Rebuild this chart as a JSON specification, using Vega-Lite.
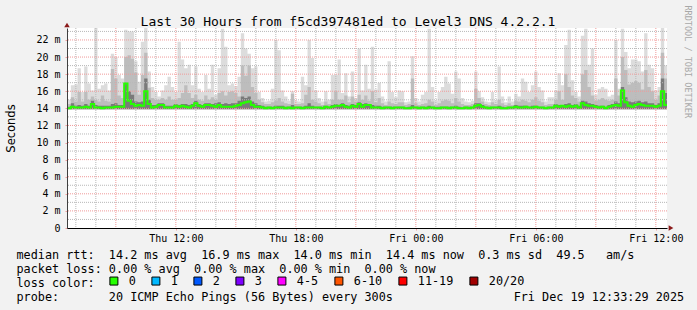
{
"$schema": "https://vega.github.io/schema/vega-lite/v6.json",
"width": 600, "height": 200,
"autosize": {"type": "none"},
"padding": {"left": 67, "top": 28, "right": 30, "bottom": 82},
"background": "#f2f2f2",
"config": {"view": {"fill": "#ffffff", "stroke": null}, "font": "DejaVu Sans Mono"},
"title": {"text": "Last 30 Hours from f5cd397481ed to Level3 DNS 4.2.2.1", "font": "DejaVu Sans Mono", "fontSize": 13, "fontWeight": "normal", "color": "#000000", "anchor": "middle", "frame": "group", "dx": -19, "dy": 39, "baseline": "alphabetic", "offset": 5},
"datasets": {
"gxMinor": [{"t":"2025-12-18T07:00:00Z"},{"t":"2025-12-18T08:00:00Z"},{"t":"2025-12-18T10:00:00Z"},{"t":"2025-12-18T11:00:00Z"},{"t":"2025-12-18T13:00:00Z"},{"t":"2025-12-18T14:00:00Z"},{"t":"2025-12-18T16:00:00Z"},{"t":"2025-12-18T17:00:00Z"},{"t":"2025-12-18T19:00:00Z"},{"t":"2025-12-18T20:00:00Z"},{"t":"2025-12-18T22:00:00Z"},{"t":"2025-12-18T23:00:00Z"},{"t":"2025-12-19T01:00:00Z"},{"t":"2025-12-19T02:00:00Z"},{"t":"2025-12-19T04:00:00Z"},{"t":"2025-12-19T05:00:00Z"},{"t":"2025-12-19T07:00:00Z"},{"t":"2025-12-19T08:00:00Z"},{"t":"2025-12-19T10:00:00Z"},{"t":"2025-12-19T11:00:00Z"}],
"gxMajor": [{"t":"2025-12-18T09:00:00Z"},{"t":"2025-12-18T12:00:00Z"},{"t":"2025-12-18T15:00:00Z"},{"t":"2025-12-18T18:00:00Z"},{"t":"2025-12-18T21:00:00Z"},{"t":"2025-12-19T00:00:00Z"},{"t":"2025-12-19T03:00:00Z"},{"t":"2025-12-19T06:00:00Z"},{"t":"2025-12-19T09:00:00Z"},{"t":"2025-12-19T12:00:00Z"}],
"gyMinor": [{"v":1},{"v":3},{"v":5},{"v":7},{"v":9},{"v":11},{"v":13},{"v":15},{"v":17},{"v":19},{"v":21},{"v":23}],
"gyMajor": [{"v":2},{"v":4},{"v":6},{"v":8},{"v":10},{"v":12},{"v":14},{"v":16},{"v":18},{"v":20},{"v":22}],
"s": [
{"t":"2025-12-18T06:30:00Z","med":14.0,"d":14.2,"m":14.4,"h":14.8},
{"t":"2025-12-18T06:40:00Z","med":14.0,"d":14.2,"m":14.5,"h":15.0},
{"t":"2025-12-18T06:50:00Z","med":14.2,"d":14.6,"m":15.3,"h":16.7},
{"t":"2025-12-18T07:00:00Z","med":14.1,"d":14.3,"m":14.8,"h":16.8},
{"t":"2025-12-18T07:10:00Z","med":14.1,"d":14.4,"m":15.9,"h":18.7},
{"t":"2025-12-18T07:20:00Z","med":14.1,"d":14.3,"m":14.8,"h":15.9},
{"t":"2025-12-18T07:30:00Z","med":14.2,"d":14.5,"m":15.9,"h":18.9},
{"t":"2025-12-18T07:40:00Z","med":14.1,"d":14.3,"m":15.0,"h":16.9},
{"t":"2025-12-18T07:50:00Z","med":14.5,"d":14.9,"m":15.4,"h":16.1},
{"t":"2025-12-18T08:00:00Z","med":14.1,"d":14.4,"m":15.0,"h":23.4},
{"t":"2025-12-18T08:10:00Z","med":14.1,"d":14.3,"m":14.8,"h":16.3},
{"t":"2025-12-18T08:20:00Z","med":14.0,"d":14.3,"m":15.5,"h":16.7},
{"t":"2025-12-18T08:30:00Z","med":14.1,"d":14.3,"m":14.9,"h":16.9},
{"t":"2025-12-18T08:40:00Z","med":14.1,"d":14.3,"m":14.8,"h":16.1},
{"t":"2025-12-18T08:50:00Z","med":14.1,"d":14.5,"m":18.6,"h":20.4},
{"t":"2025-12-18T09:00:00Z","med":14.2,"d":14.6,"m":17.5,"h":20.0},
{"t":"2025-12-18T09:10:00Z","med":14.2,"d":14.4,"m":15.5,"h":17.9},
{"t":"2025-12-18T09:20:00Z","med":14.2,"d":14.4,"m":15.2,"h":17.5},
{"t":"2025-12-18T09:30:00Z","med":16.9,"d":17.0,"m":20.0,"h":23.2},
{"t":"2025-12-18T09:40:00Z","med":14.9,"d":16.0,"m":20.2,"h":23.0},
{"t":"2025-12-18T09:50:00Z","med":14.5,"d":15.6,"m":19.8,"h":23.0},
{"t":"2025-12-18T10:00:00Z","med":14.3,"d":14.8,"m":18.2,"h":19.5},
{"t":"2025-12-18T10:10:00Z","med":14.4,"d":14.7,"m":15.6,"h":17.1},
{"t":"2025-12-18T10:20:00Z","med":14.3,"d":14.8,"m":17.9,"h":21.8},
{"t":"2025-12-18T10:30:00Z","med":16.0,"d":17.5,"m":20.5,"h":23.4},
{"t":"2025-12-18T10:40:00Z","med":14.5,"d":15.0,"m":16.4,"h":18.3},
{"t":"2025-12-18T10:50:00Z","med":14.1,"d":14.4,"m":15.2,"h":16.5},
{"t":"2025-12-18T11:00:00Z","med":14.2,"d":14.4,"m":15.0,"h":15.9},
{"t":"2025-12-18T11:10:00Z","med":14.4,"d":14.6,"m":15.0,"h":15.4},
{"t":"2025-12-18T11:20:00Z","med":14.4,"d":14.6,"m":15.2,"h":16.1},
{"t":"2025-12-18T11:30:00Z","med":14.1,"d":14.3,"m":15.0,"h":16.7},
{"t":"2025-12-18T11:40:00Z","med":14.1,"d":14.3,"m":15.4,"h":17.7},
{"t":"2025-12-18T11:50:00Z","med":14.1,"d":14.3,"m":15.0,"h":16.5},
{"t":"2025-12-18T12:00:00Z","med":14.3,"d":14.5,"m":15.0,"h":15.9},
{"t":"2025-12-18T12:10:00Z","med":14.2,"d":14.4,"m":15.2,"h":21.8},
{"t":"2025-12-18T12:20:00Z","med":14.3,"d":14.5,"m":15.8,"h":19.7},
{"t":"2025-12-18T12:30:00Z","med":14.2,"d":14.5,"m":16.7,"h":18.7},
{"t":"2025-12-18T12:40:00Z","med":14.1,"d":14.4,"m":15.8,"h":19.1},
{"t":"2025-12-18T12:50:00Z","med":14.3,"d":14.5,"m":15.2,"h":16.7},
{"t":"2025-12-18T13:00:00Z","med":14.6,"d":14.9,"m":15.6,"h":18.9},
{"t":"2025-12-18T13:10:00Z","med":14.3,"d":14.5,"m":15.0,"h":16.3},
{"t":"2025-12-18T13:20:00Z","med":14.2,"d":14.4,"m":14.9,"h":15.9},
{"t":"2025-12-18T13:30:00Z","med":14.4,"d":14.6,"m":15.5,"h":17.9},
{"t":"2025-12-18T13:40:00Z","med":14.4,"d":14.6,"m":15.0,"h":16.3},
{"t":"2025-12-18T13:50:00Z","med":14.3,"d":14.5,"m":15.3,"h":19.1},
{"t":"2025-12-18T14:00:00Z","med":14.2,"d":14.6,"m":15.0,"h":15.6},
{"t":"2025-12-18T14:10:00Z","med":14.4,"d":14.7,"m":15.8,"h":18.7},
{"t":"2025-12-18T14:20:00Z","med":14.2,"d":14.5,"m":16.0,"h":23.3},
{"t":"2025-12-18T14:30:00Z","med":14.2,"d":14.6,"m":15.5,"h":21.2},
{"t":"2025-12-18T14:40:00Z","med":14.2,"d":14.5,"m":15.9,"h":16.7},
{"t":"2025-12-18T14:50:00Z","med":14.2,"d":14.6,"m":16.0,"h":16.9},
{"t":"2025-12-18T15:00:00Z","med":14.3,"d":14.6,"m":15.8,"h":16.6},
{"t":"2025-12-18T15:10:00Z","med":14.4,"d":14.9,"m":15.4,"h":17.7},
{"t":"2025-12-18T15:20:00Z","med":14.6,"d":15.4,"m":19.0,"h":22.8},
{"t":"2025-12-18T15:30:00Z","med":14.7,"d":15.2,"m":17.8,"h":21.0},
{"t":"2025-12-18T15:40:00Z","med":14.8,"d":15.4,"m":19.0,"h":20.4},
{"t":"2025-12-18T15:50:00Z","med":14.4,"d":14.8,"m":16.5,"h":18.7},
{"t":"2025-12-18T16:00:00Z","med":14.2,"d":14.6,"m":15.8,"h":18.9},
{"t":"2025-12-18T16:10:00Z","med":14.2,"d":14.4,"m":15.0,"h":15.9},
{"t":"2025-12-18T16:20:00Z","med":14.1,"d":14.3,"m":14.7,"h":15.2},
{"t":"2025-12-18T16:30:00Z","med":14.0,"d":14.2,"m":14.5,"h":14.8},
{"t":"2025-12-18T16:40:00Z","med":14.1,"d":14.2,"m":14.5,"h":14.9},
{"t":"2025-12-18T16:50:00Z","med":14.0,"d":14.2,"m":14.7,"h":16.3},
{"t":"2025-12-18T17:00:00Z","med":14.1,"d":14.3,"m":14.9,"h":22.0},
{"t":"2025-12-18T17:10:00Z","med":14.1,"d":14.3,"m":15.2,"h":20.8},
{"t":"2025-12-18T17:20:00Z","med":14.1,"d":14.3,"m":14.8,"h":16.1},
{"t":"2025-12-18T17:30:00Z","med":14.0,"d":14.2,"m":14.6,"h":15.4},
{"t":"2025-12-18T17:40:00Z","med":14.1,"d":14.2,"m":14.5,"h":14.9},
{"t":"2025-12-18T17:50:00Z","med":14.0,"d":14.4,"m":15.7,"h":16.0},
{"t":"2025-12-18T18:00:00Z","med":14.1,"d":14.2,"m":14.5,"h":14.9},
{"t":"2025-12-18T18:10:00Z","med":14.1,"d":14.2,"m":14.5,"h":14.8},
{"t":"2025-12-18T18:20:00Z","med":14.0,"d":14.2,"m":14.6,"h":17.7},
{"t":"2025-12-18T18:30:00Z","med":14.1,"d":14.3,"m":15.6,"h":16.7},
{"t":"2025-12-18T18:40:00Z","med":14.1,"d":14.6,"m":16.5,"h":22.0},
{"t":"2025-12-18T18:50:00Z","med":14.1,"d":14.3,"m":15.0,"h":19.9},
{"t":"2025-12-18T19:00:00Z","med":14.1,"d":14.2,"m":14.8,"h":16.1},
{"t":"2025-12-18T19:10:00Z","med":14.1,"d":14.2,"m":14.6,"h":15.2},
{"t":"2025-12-18T19:20:00Z","med":14.0,"d":14.2,"m":14.4,"h":14.8},
{"t":"2025-12-18T19:30:00Z","med":14.2,"d":14.3,"m":14.8,"h":16.0},
{"t":"2025-12-18T19:40:00Z","med":14.1,"d":14.2,"m":14.5,"h":15.0},
{"t":"2025-12-18T19:50:00Z","med":14.2,"d":14.4,"m":15.0,"h":17.9},
{"t":"2025-12-18T20:00:00Z","med":14.3,"d":14.5,"m":16.0,"h":17.9},
{"t":"2025-12-18T20:10:00Z","med":14.3,"d":14.4,"m":15.0,"h":19.7},
{"t":"2025-12-18T20:20:00Z","med":14.4,"d":14.6,"m":15.0,"h":15.8},
{"t":"2025-12-18T20:30:00Z","med":14.2,"d":14.4,"m":15.5,"h":18.1},
{"t":"2025-12-18T20:40:00Z","med":14.1,"d":14.3,"m":14.7,"h":15.4},
{"t":"2025-12-18T20:50:00Z","med":14.3,"d":14.5,"m":15.4,"h":18.3},
{"t":"2025-12-18T21:00:00Z","med":14.2,"d":14.4,"m":14.8,"h":15.2},
{"t":"2025-12-18T21:10:00Z","med":14.5,"d":14.7,"m":15.6,"h":21.0},
{"t":"2025-12-18T21:20:00Z","med":14.2,"d":14.5,"m":15.0,"h":16.1},
{"t":"2025-12-18T21:30:00Z","med":14.4,"d":14.6,"m":15.5,"h":19.1},
{"t":"2025-12-18T21:40:00Z","med":14.4,"d":14.5,"m":14.9,"h":16.3},
{"t":"2025-12-18T21:50:00Z","med":14.1,"d":14.4,"m":16.0,"h":21.2},
{"t":"2025-12-18T22:00:00Z","med":14.1,"d":14.3,"m":14.7,"h":16.2},
{"t":"2025-12-18T22:10:00Z","med":14.1,"d":14.3,"m":15.2,"h":17.0},
{"t":"2025-12-18T22:20:00Z","med":14.0,"d":14.2,"m":14.6,"h":15.4},
{"t":"2025-12-18T22:30:00Z","med":14.1,"d":14.2,"m":14.4,"h":14.8},
{"t":"2025-12-18T22:40:00Z","med":14.1,"d":14.2,"m":14.8,"h":19.5},
{"t":"2025-12-18T22:50:00Z","med":14.0,"d":14.2,"m":14.6,"h":15.9},
{"t":"2025-12-18T23:00:00Z","med":14.1,"d":14.2,"m":14.5,"h":15.3},
{"t":"2025-12-18T23:10:00Z","med":14.1,"d":14.2,"m":14.7,"h":16.1},
{"t":"2025-12-18T23:20:00Z","med":14.1,"d":14.2,"m":14.7,"h":16.0},
{"t":"2025-12-18T23:30:00Z","med":14.0,"d":14.1,"m":14.4,"h":14.7},
{"t":"2025-12-18T23:40:00Z","med":14.0,"d":14.2,"m":14.5,"h":14.8},
{"t":"2025-12-18T23:50:00Z","med":14.1,"d":14.4,"m":17.5,"h":20.1},
{"t":"2025-12-19T00:00:00Z","med":14.1,"d":14.2,"m":14.6,"h":15.2},
{"t":"2025-12-19T00:10:00Z","med":14.0,"d":14.2,"m":14.4,"h":14.8},
{"t":"2025-12-19T00:20:00Z","med":14.1,"d":14.2,"m":14.5,"h":15.6},
{"t":"2025-12-19T00:30:00Z","med":14.0,"d":14.2,"m":14.6,"h":15.9},
{"t":"2025-12-19T00:40:00Z","med":14.1,"d":14.3,"m":15.0,"h":23.3},
{"t":"2025-12-19T00:50:00Z","med":14.1,"d":14.2,"m":14.8,"h":16.5},
{"t":"2025-12-19T01:00:00Z","med":14.0,"d":14.2,"m":14.4,"h":14.9},
{"t":"2025-12-19T01:10:00Z","med":14.0,"d":14.2,"m":14.6,"h":15.9},
{"t":"2025-12-19T01:20:00Z","med":14.1,"d":14.2,"m":14.9,"h":16.5},
{"t":"2025-12-19T01:30:00Z","med":14.1,"d":14.2,"m":15.0,"h":17.7},
{"t":"2025-12-19T01:40:00Z","med":14.0,"d":14.2,"m":14.9,"h":16.9},
{"t":"2025-12-19T01:50:00Z","med":14.1,"d":14.2,"m":14.6,"h":15.7},
{"t":"2025-12-19T02:00:00Z","med":14.1,"d":14.3,"m":15.2,"h":18.3},
{"t":"2025-12-19T02:10:00Z","med":14.0,"d":14.2,"m":14.8,"h":17.5},
{"t":"2025-12-19T02:20:00Z","med":14.0,"d":14.1,"m":14.5,"h":15.2},
{"t":"2025-12-19T02:30:00Z","med":14.1,"d":14.2,"m":14.4,"h":14.8},
{"t":"2025-12-19T02:40:00Z","med":14.0,"d":14.2,"m":14.4,"h":14.7},
{"t":"2025-12-19T02:50:00Z","med":14.1,"d":14.2,"m":14.5,"h":14.9},
{"t":"2025-12-19T03:00:00Z","med":14.3,"d":14.6,"m":16.3,"h":18.3},
{"t":"2025-12-19T03:10:00Z","med":14.4,"d":14.6,"m":15.2,"h":16.0},
{"t":"2025-12-19T03:20:00Z","med":14.2,"d":14.4,"m":14.8,"h":15.3},
{"t":"2025-12-19T03:30:00Z","med":14.1,"d":14.2,"m":14.5,"h":14.8},
{"t":"2025-12-19T03:40:00Z","med":14.0,"d":14.2,"m":14.4,"h":14.7},
{"t":"2025-12-19T03:50:00Z","med":14.1,"d":14.2,"m":14.7,"h":15.9},
{"t":"2025-12-19T04:00:00Z","med":14.1,"d":14.2,"m":14.5,"h":14.9},
{"t":"2025-12-19T04:10:00Z","med":14.1,"d":14.3,"m":15.0,"h":18.9},
{"t":"2025-12-19T04:20:00Z","med":14.0,"d":14.2,"m":14.6,"h":15.4},
{"t":"2025-12-19T04:30:00Z","med":14.0,"d":14.1,"m":14.4,"h":14.7},
{"t":"2025-12-19T04:40:00Z","med":14.1,"d":14.2,"m":14.6,"h":15.4},
{"t":"2025-12-19T04:50:00Z","med":14.1,"d":14.2,"m":14.4,"h":14.8},
{"t":"2025-12-19T05:00:00Z","med":14.2,"d":14.4,"m":14.9,"h":15.7},
{"t":"2025-12-19T05:10:00Z","med":14.1,"d":14.3,"m":14.8,"h":15.4},
{"t":"2025-12-19T05:20:00Z","med":14.1,"d":14.3,"m":15.0,"h":17.5},
{"t":"2025-12-19T05:30:00Z","med":14.2,"d":14.3,"m":14.9,"h":17.1},
{"t":"2025-12-19T05:40:00Z","med":14.1,"d":14.2,"m":14.7,"h":15.9},
{"t":"2025-12-19T05:50:00Z","med":14.1,"d":14.3,"m":15.0,"h":16.7},
{"t":"2025-12-19T06:00:00Z","med":14.2,"d":14.3,"m":15.3,"h":18.3},
{"t":"2025-12-19T06:10:00Z","med":14.1,"d":14.2,"m":14.9,"h":16.5},
{"t":"2025-12-19T06:20:00Z","med":14.1,"d":14.2,"m":14.7,"h":16.1},
{"t":"2025-12-19T06:30:00Z","med":14.0,"d":14.1,"m":14.4,"h":14.8},
{"t":"2025-12-19T06:40:00Z","med":14.1,"d":14.2,"m":14.5,"h":15.3},
{"t":"2025-12-19T06:50:00Z","med":14.1,"d":14.2,"m":14.5,"h":15.3},
{"t":"2025-12-19T07:00:00Z","med":14.3,"d":14.5,"m":15.0,"h":16.1},
{"t":"2025-12-19T07:10:00Z","med":14.2,"d":14.4,"m":16.0,"h":18.1},
{"t":"2025-12-19T07:20:00Z","med":14.3,"d":14.4,"m":15.0,"h":16.7},
{"t":"2025-12-19T07:30:00Z","med":14.2,"d":14.5,"m":18.0,"h":21.4},
{"t":"2025-12-19T07:40:00Z","med":14.3,"d":14.6,"m":16.5,"h":23.2},
{"t":"2025-12-19T07:50:00Z","med":14.2,"d":14.4,"m":15.5,"h":17.3},
{"t":"2025-12-19T08:00:00Z","med":14.3,"d":14.5,"m":15.2,"h":15.9},
{"t":"2025-12-19T08:10:00Z","med":14.1,"d":14.3,"m":14.8,"h":15.4},
{"t":"2025-12-19T08:20:00Z","med":14.6,"d":14.9,"m":18.0,"h":22.5},
{"t":"2025-12-19T08:30:00Z","med":14.4,"d":14.8,"m":18.5,"h":23.3},
{"t":"2025-12-19T08:40:00Z","med":14.3,"d":14.6,"m":16.5,"h":19.1},
{"t":"2025-12-19T08:50:00Z","med":14.3,"d":14.5,"m":15.5,"h":21.0},
{"t":"2025-12-19T09:00:00Z","med":14.2,"d":14.4,"m":14.9,"h":15.6},
{"t":"2025-12-19T09:10:00Z","med":14.1,"d":14.3,"m":15.0,"h":16.3},
{"t":"2025-12-19T09:20:00Z","med":14.2,"d":14.3,"m":15.2,"h":16.5},
{"t":"2025-12-19T09:30:00Z","med":14.0,"d":14.2,"m":15.0,"h":16.3},
{"t":"2025-12-19T09:40:00Z","med":14.2,"d":14.4,"m":14.9,"h":15.4},
{"t":"2025-12-19T09:50:00Z","med":14.3,"d":14.5,"m":15.0,"h":15.6},
{"t":"2025-12-19T10:00:00Z","med":14.4,"d":14.8,"m":17.5,"h":22.0},
{"t":"2025-12-19T10:10:00Z","med":14.3,"d":14.6,"m":15.5,"h":16.3},
{"t":"2025-12-19T10:20:00Z","med":16.1,"d":16.5,"m":20.0,"h":23.3},
{"t":"2025-12-19T10:30:00Z","med":14.7,"d":15.3,"m":18.5,"h":20.6},
{"t":"2025-12-19T10:40:00Z","med":14.3,"d":14.8,"m":16.8,"h":18.7},
{"t":"2025-12-19T10:50:00Z","med":14.2,"d":14.7,"m":17.0,"h":19.7},
{"t":"2025-12-19T11:00:00Z","med":14.4,"d":14.8,"m":17.2,"h":19.7},
{"t":"2025-12-19T11:10:00Z","med":14.5,"d":14.9,"m":17.0,"h":19.5},
{"t":"2025-12-19T11:20:00Z","med":14.4,"d":14.7,"m":16.2,"h":18.3},
{"t":"2025-12-19T11:30:00Z","med":14.3,"d":14.8,"m":18.5,"h":22.8},
{"t":"2025-12-19T11:40:00Z","med":14.3,"d":14.6,"m":16.5,"h":19.1},
{"t":"2025-12-19T11:50:00Z","med":14.3,"d":14.6,"m":16.0,"h":18.7},
{"t":"2025-12-19T12:00:00Z","med":14.2,"d":14.4,"m":15.0,"h":16.1},
{"t":"2025-12-19T12:10:00Z","med":14.3,"d":14.6,"m":15.5,"h":16.5},
{"t":"2025-12-19T12:20:00Z","med":16.0,"d":17.5,"m":20.5,"h":23.4},
{"t":"2025-12-19T12:30:00Z","med":14.4,"d":15.8,"m":17.5,"h":19.0},
{"t":"2025-12-19T12:40:00Z","med":14.4,"d":14.8,"m":15.5,"h":16.0}
]},
"resolve": {"axis": {"y": "independent"}},
"layer": [
{"data": {"name": "s"},
 "mark": {"type": "area", "interpolate": "step", "color": "#dcdcdc", "clip": true},
 "encoding": {
  "x": {"field": "t", "type": "temporal",
   "scale": {"type": "utc", "domain": [1766039609000, 1766147609000]},
   "axis": {"values": [1766059200000, 1766080800000, 1766102400000, 1766124000000, 1766145600000],
    "format": "%a %H:%M",
    "labelFont": "DejaVu Sans Mono", "labelFontSize": 10, "labelColor": "#000000", "labelPadding": 3, "labelOverlap": false, "labelFlush": false,
    "grid": false, "tickColor": "#f2a0a0", "tickSize": 2, "domainColor": "#000000", "domainWidth": 1, "zindex": 2,
    "title": ["median rtt:\u00a0\u00a014.2\u00a0ms\u00a0avg\u00a0\u00a016.9\u00a0ms\u00a0max\u00a0\u00a014.0\u00a0ms\u00a0min\u00a0\u00a014.4\u00a0ms\u00a0now\u00a0\u00a00.3\u00a0ms\u00a0sd\u00a0\u00a049.5\u00a0\u00a0\u00a0am/s",
              "packet loss:\u00a00.00\u00a0%\u00a0avg\u00a0\u00a00.00\u00a0%\u00a0max\u00a0\u00a00.00\u00a0%\u00a0min\u00a0\u00a00.00\u00a0%\u00a0now",
              "loss color:",
              "probe:\u00a0\u00a0\u00a0\u00a0\u00a0\u00a0\u00a020\u00a0ICMP\u00a0Echo\u00a0Pings\u00a0(56\u00a0Bytes)\u00a0every\u00a0300s\u00a0\u00a0\u00a0\u00a0\u00a0\u00a0\u00a0\u00a0\u00a0\u00a0\u00a0\u00a0\u00a0\u00a0\u00a0\u00a0\u00a0Fri\u00a0Dec\u00a019\u00a012:33:29\u00a02025"],
    "titleX": -51, "titleY": 30, "titleAlign": "left", "titleAnchor": "start", "titleBaseline": "alphabetic",
    "titleFont": "DejaVu Sans Mono", "titleFontSize": 11.8, "titleFontWeight": "normal", "titleColor": "#000000", "titleLineHeight": 14}},
  "y": {"field": "h", "type": "quantitative",
   "scale": {"domain": [0, 23.4], "nice": false, "zero": true},
   "axis": {"values": [0,2,4,6,8,10,12,14,16,18,20,22],
    "labelExpr": "datum.value == 0 ? '0' : datum.value + ' m'",
    "labelFont": "DejaVu Sans Mono", "labelFontSize": 10, "labelColor": "#000000", "labelPadding": 5, "labelOverlap": false,
    "grid": false, "tickColor": "#f2a0a0", "tickSize": 2, "domainColor": "#404040", "domainWidth": 1, "zindex": 1,
    "title": "Seconds", "titleFont": "DejaVu Sans", "titleFontSize": 11.5, "titleFontWeight": "normal", "titleColor": "#000000",
    "titleAngle": 270, "titleX": -56, "titleY": 100, "titleAlign": "center", "titleBaseline": "middle"}},
  "y2": {"datum": 13.9}
 }},
{"data": {"name": "s"},
 "mark": {"type": "area", "interpolate": "step", "color": "#bdbdbd", "clip": true},
 "encoding": {
  "x": {"field": "t", "type": "temporal"},
  "y": {"field": "m", "type": "quantitative", "axis": null},
  "y2": {"datum": 13.9}
 }},
{"data": {"name": "s"},
 "mark": {"type": "area", "interpolate": "step", "color": "#7a7a7a", "clip": true},
 "encoding": {
  "x": {"field": "t", "type": "temporal"},
  "y": {"field": "d", "type": "quantitative", "axis": null},
  "y2": {"datum": 13.9}
 }},
{"data": {"name": "gxMinor"},
 "mark": {"type": "rule", "color": "#b8b8b8", "strokeWidth": 1, "strokeDash": [1, 1]},
 "encoding": {"x": {"field": "t", "type": "temporal"}}},
{"data": {"name": "gxMajor"},
 "mark": {"type": "rule", "color": "#f09a9a", "strokeWidth": 1, "strokeDash": [1, 1]},
 "encoding": {"x": {"field": "t", "type": "temporal"}}},
{"data": {"name": "gyMinor"},
 "mark": {"type": "rule", "color": "#b8b8b8", "strokeWidth": 1, "strokeDash": [1, 1]},
 "encoding": {"y": {"field": "v", "type": "quantitative", "axis": null}}},
{"data": {"name": "gyMajor"},
 "mark": {"type": "rule", "color": "#f09a9a", "strokeWidth": 1, "strokeDash": [1, 1]},
 "encoding": {"y": {"field": "v", "type": "quantitative", "axis": null}}},
{"data": {"name": "s"},
 "mark": {"type": "line", "interpolate": "step", "strokeWidth": 2, "color": "#26ff00", "clip": true},
 "encoding": {
  "x": {"field": "t", "type": "temporal"},
  "y": {"field": "med", "type": "quantitative", "axis": null}
 }},
{"data": {"values": [{}]},
 "mark": {"type": "square", "filled": true, "opacity": 0, "size": 1},
 "encoding": {
  "x": {"datum": 1766039609000, "type": "temporal"},
  "y": {"datum": 0, "type": "quantitative",
   "axis": {"orient": "right", "domain": false, "ticks": false, "labels": false, "grid": false,
    "title": "RRDTOOL / TOBI OETIKER", "titleAngle": 90, "titleX": 20, "titleY": -23, "titleAlign": "left", "titleBaseline": "middle",
    "titleFont": "DejaVu Sans Mono", "titleFontSize": 8.5, "titleFontWeight": "normal", "titleColor": "#a8a8a8"}},
  "color": {"datum": "0", "type": "nominal",
   "scale": {"domain": ["0", "1", "2", "3", "4-5", "6-10", "11-19", "20/20"],
             "range": ["#26ff00", "#00b8ff", "#0059ff", "#7e00ff", "#ff00ff", "#ff5500", "#ff0000", "#a10000"]},
   "legend": {"orient": "none", "legendX": 41, "legendY": 247, "direction": "horizontal", "title": null,
    "symbolType": "square", "symbolSize": 64, "symbolStrokeColor": "#000000", "symbolStrokeWidth": 1, "symbolOpacity": 1,
    "labelFont": "DejaVu Sans Mono", "labelFontSize": 11.8, "labelColor": "#000000", "labelOffset": 9, "columnPadding": 13, "padding": 0}}
 }},
{"data": {"values": [{}]},
 "mark": {"type": "point", "shape": "triangle-right", "filled": true, "color": "#8b1a1a", "size": 30, "opacity": 1, "xOffset": 4, "clip": false},
 "encoding": {
  "x": {"datum": 1766147609000, "type": "temporal"},
  "y": {"datum": 0, "type": "quantitative", "axis": null}
 }},
{"data": {"values": [{}]},
 "mark": {"type": "point", "shape": "triangle-up", "filled": true, "color": "#8b1a1a", "size": 30, "opacity": 1, "yOffset": -3, "clip": false},
 "encoding": {
  "x": {"datum": 1766039609000, "type": "temporal"},
  "y": {"datum": 23.4, "type": "quantitative", "axis": null}
 }}
]
}
